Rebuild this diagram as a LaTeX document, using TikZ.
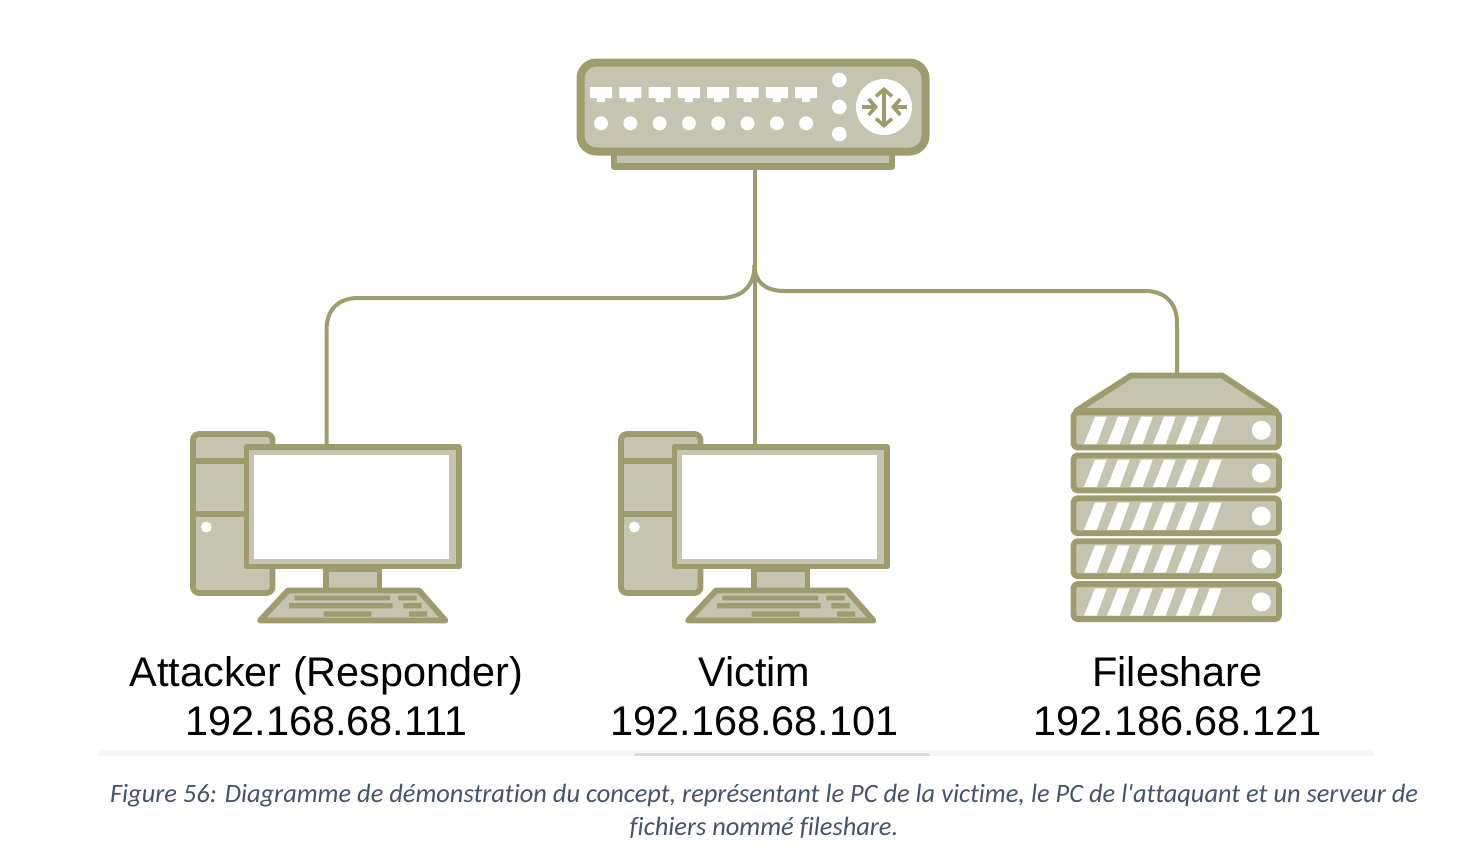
\documentclass[tikz,border=0pt]{standalone}
\usepackage{fontspec}
\setmainfont{Liberation Sans}
\newfontfamily\captionfont[Ligatures=CommonOff]{Carlito}
\usetikzlibrary{arrows.meta}
\definecolor{olive}{HTML}{9E9C6D}
\definecolor{khaki}{HTML}{C5C4B0}
\definecolor{captionblue}{HTML}{44546A}
\tikzset{
  x=.5pt,y=-.5pt,
  wire/.style={draw=olive,line width=2pt},
  part/.style={draw=olive,fill=khaki,line width=2.9pt,line join=round},
  routerbox/.style={part,line width=4pt,rounded corners=8pt,minimum width=172.5pt,minimum height=44.5pt,outer sep=0pt,inner sep=0pt},
  routerfoot/.style={part,line width=3.2pt,minimum width=139pt,minimum height=7.5pt,outer sep=0pt,inner sep=0pt},
  screen/.style={part,minimum width=106.25pt,minimum height=59.75pt,outer sep=0pt,inner sep=0pt},
  turn/.style={draw=olive,line width=1.75pt,{Straight Barb[length=3.5pt,width=8pt]}-{Straight Barb[length=3.5pt,width=8pt]}},
  inward/.style={draw=olive,line width=1.75pt,-{Straight Barb[length=3.5pt,width=8pt]}},
  label/.style={align=center,inner sep=0pt,font=\fontsize{20.7}{24.5}\selectfont},
  pc/.pic={
    \draw[part,rounded corners=3pt] (193,434) rectangle (272.5,593);
    \draw[part] (193,460.7) -- (247,460.7) (193,513.7) -- (247,513.7);
    \fill[white] (206.3,527) circle (5.5);
    \draw[part] (326,569) rectangle (379.5,590.5);
    \node[screen] (-screen) at (352.75,506.75) {};
    \fill[white] (254,455) rectangle (448.7,559);
    \coordinate (-port) at (326.5,447);
    \draw[part] (288,590.5) -- (419,590.5) -- (445.5,620.5) -- (260,620.5) -- cycle;
    \fill[olive] (294.3,595.7) rectangle (390,600.3) (398.3,595.7) rectangle (416.7,600.3)
      (289,603) rectangle (392.7,608.3) (403.3,603) rectangle (421.7,608.3)
      (323.7,611.3) rectangle (371.3,616.7) (409,611.3) rectangle (427,616.7);
  }
}
\begin{document}
\begin{tikzpicture}
\useasboundingbox (0,0) rectangle (1460,846);
\fill[white] (0,0) rectangle (1460,846);

\node[routerfoot] (routerfoot) at (753,159) {};
\node[routerbox] (router) at (753,107) {};
\foreach \x in {601,630.3,...,807}{
  \fill[white] (\x-11,87) rectangle (\x+11,98) (\x-4,98) rectangle (\x+4,102);
  \fill[white] (\x,123.3) circle (7);
}
\foreach \y in {80,107,134}
  \fill[white] (839.3,\y) circle (7.3);
\fill[white] (884,107) circle (28);
\draw[turn] (884,87) -- (884,128);
\draw[inward] (862,107) -- (878,107);
\draw[inward] (907,107) -- (891,107);

\pic (attacker) at (0,0) {pc};
\pic (victim) at (428,0) {pc};

\draw[part] (1131,375.5) -- (1222,375.5) -- (1276,411) -- (1076,411) -- cycle;
\coordinate (serverport) at (1177,375);
\foreach \y in {0,1,2,3,4}{
  \draw[part,rounded corners=2pt] (1073.5,412.5+42.9*\y) rectangle (1279,447.5+42.9*\y);
  \foreach \s in {0,1,2,3,4,5}
    \fill[white] (1084+23*\s,444+42.9*\y) -- (1096.7+23*\s,444+42.9*\y) -- (1106.7+23*\s,416.7+42.9*\y) -- (1095+23*\s,416.7+42.9*\y) -- cycle;
  \fill[white] (1261.3,430.3+42.9*\y) circle (9.5);
}

\coordinate (split) at (754.5,265);
\draw[wire] (routerfoot.south -| victim-port) -- (victim-port);
\draw[wire] (split) .. controls (754.5,288) and (740,298) .. (720,298) -- (358,298)
  .. controls (338,298) and (326.5,310) .. (326.5,330) -- (attacker-port);
\draw[wire] (split) .. controls (754.5,282) and (765,291) .. (785,291) -- (1145,291)
  .. controls (1165,291) and (1177,303) .. (1177,323) -- (serverport);

\node[label] (attackerlabel) at (326.5,696) {Attacker (Responder)\\192.168.68.111};
\node[label] (victimlabel) at (754.5,696) {Victim\\192.168.68.101};
\node[label] (serverlabel) at (1177.5,696) {Fileshare\\192.186.68.121};

\fill[black!3] (99,750) rectangle (1374,756);
\fill[black!14,rounded corners=1pt] (634,753) rectangle (930,758);
\fill[white] (630,756) rectangle (935,760);

\node[align=center,inner sep=0pt,text=captionblue,font=\captionfont\itshape\fontsize{13.2}{16.5}\selectfont] (caption) at (764,811.5)
  {Figure 56: Diagramme de démonstration du concept, représentant le PC de la victime, le PC de l'attaquant et un serveur de\\fichiers nommé fileshare.};
\end{tikzpicture}
\end{document}
